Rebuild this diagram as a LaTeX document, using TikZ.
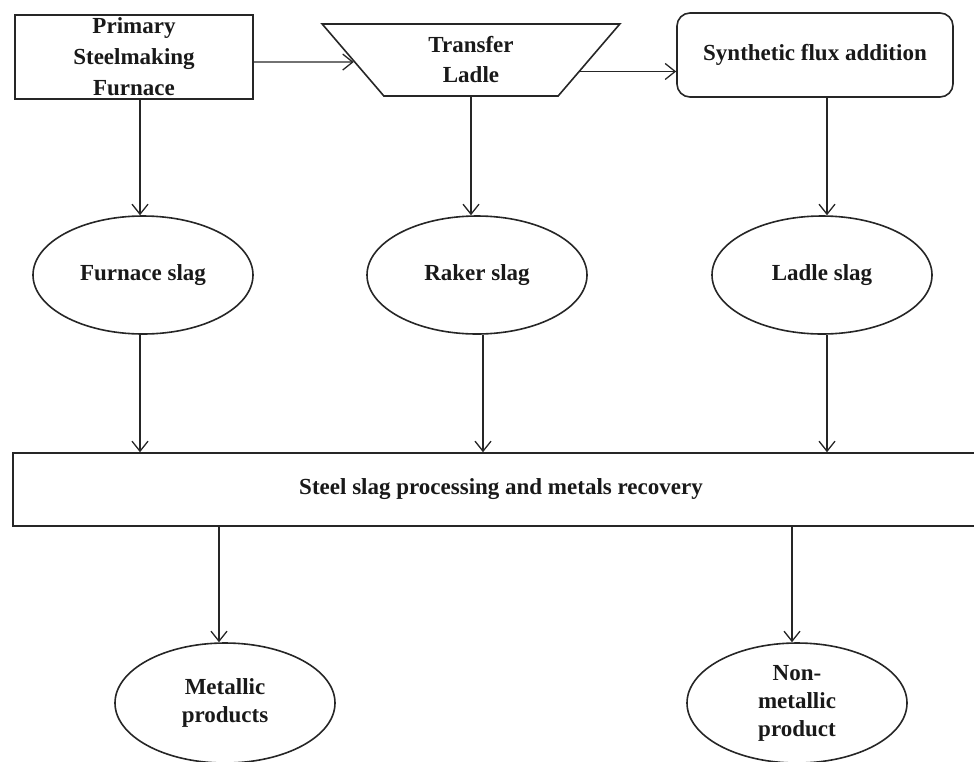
\documentclass[tikz,border=0pt]{standalone}
\usepackage{fontspec}
\setmainfont{Liberation Serif}
\usepackage{tikz}
\usetikzlibrary{positioning,calc,shapes.geometric,arrows.meta}

\begin{document}
\begin{tikzpicture}[
	x=1pt, y=-1pt,
	txt/.style={
		font=\bfseries\fontsize{23}{28}\selectfont,
		align=center,
		text=black!90
	},
	unitbox/.style={ % furnace / processing box
		txt, draw=black!85, line width=1.6pt,
		inner sep=0pt
	},
	ladlebox/.style={ % inverted trapezium
		txt, draw=black!85, line width=1.6pt,
		trapezium, shape border rotate=180,
		trapezium left angle=57, trapezium right angle=57,
		trapezium stretches=true,
		minimum width=298pt, minimum height=72pt,
		inner sep=0pt
	},
	fluxbox/.style={
		txt, draw=black!85, line width=1.6pt,
		rounded corners=13pt,
		minimum width=276pt, minimum height=84pt
	},
	slag/.style={ % ellipses
		txt, ellipse, draw=black!85, line width=1.6pt,
		minimum width=220pt, minimum height=118pt,
		inner sep=0pt
	},
	arr/.style={
		-{Straight Barb[length=10pt,width=16pt]},
		draw=black!85, line width=1.3pt
	}
	]
	
	\useasboundingbox (0,0) rectangle (974,761);
	
	% ================= TOP ROW =================
	\node[unitbox, minimum width=238pt, minimum height=84pt,
		font=\bfseries\fontsize{23}{31}\selectfont] (furnace) at (134,57) {Primary\\Steelmaking\\Furnace};
	\node[ladlebox, font=\bfseries\fontsize{23}{30}\selectfont] (ladle) at (471,60) {Transfer\\Ladle};
	\node[fluxbox] (flux) at (815,55) {Synthetic flux addition};
	
	\draw[arr] ([yshift=-5pt]furnace.east) -- (ladle.181);
	\draw[arr] (ladle.-6) -- (ladle.-6 -| flux.west);
	
	% ================= SLAG ROW =================
	\node[slag] (fslag) at (143,275) {Furnace slag};
	\node[slag] (rslag) at (477,275) {Raker slag};
	\node[slag] (lslag) at (822,275) {Ladle slag};
	
	\draw[arr] ([xshift=6pt]furnace.south) -- ([xshift=6pt]furnace.south |- fslag.north);
	\draw[arr] (ladle.south) -- (ladle.south |- rslag.north);
	\draw[arr] ([xshift=12pt]flux.south) -- ([xshift=12pt]flux.south |- lslag.north);
	
	% ================= PROCESSING =================
	\node[unitbox, minimum width=976pt, minimum height=73pt] (proc) at (501,489.5) {Steel slag processing and metals recovery};
	
	\draw[arr] ([xshift=-3pt]fslag.south) -- ([xshift=-3pt]fslag.south |- proc.north);
	\draw[arr] ([xshift=6pt]rslag.south) -- ([xshift=6pt]rslag.south |- proc.north);
	\draw[arr] ([xshift=5pt]lslag.south) -- ([xshift=5pt]lslag.south |- proc.north);
	
	% ================= PRODUCTS =================
	\node[slag, minimum height=120pt] (metal) at (225,703) {Metallic\\products};
	\node[slag, minimum height=120pt] (nonmetal) at (797,703) {Non-\\metallic\\product};
	
	\draw[arr] ([xshift=-6pt]metal.north |- proc.south) -- ([xshift=-6pt]metal.north);
	\draw[arr] ([xshift=-5pt]nonmetal.north |- proc.south) -- ([xshift=-5pt]nonmetal.north);
	
\end{tikzpicture}
\end{document}
